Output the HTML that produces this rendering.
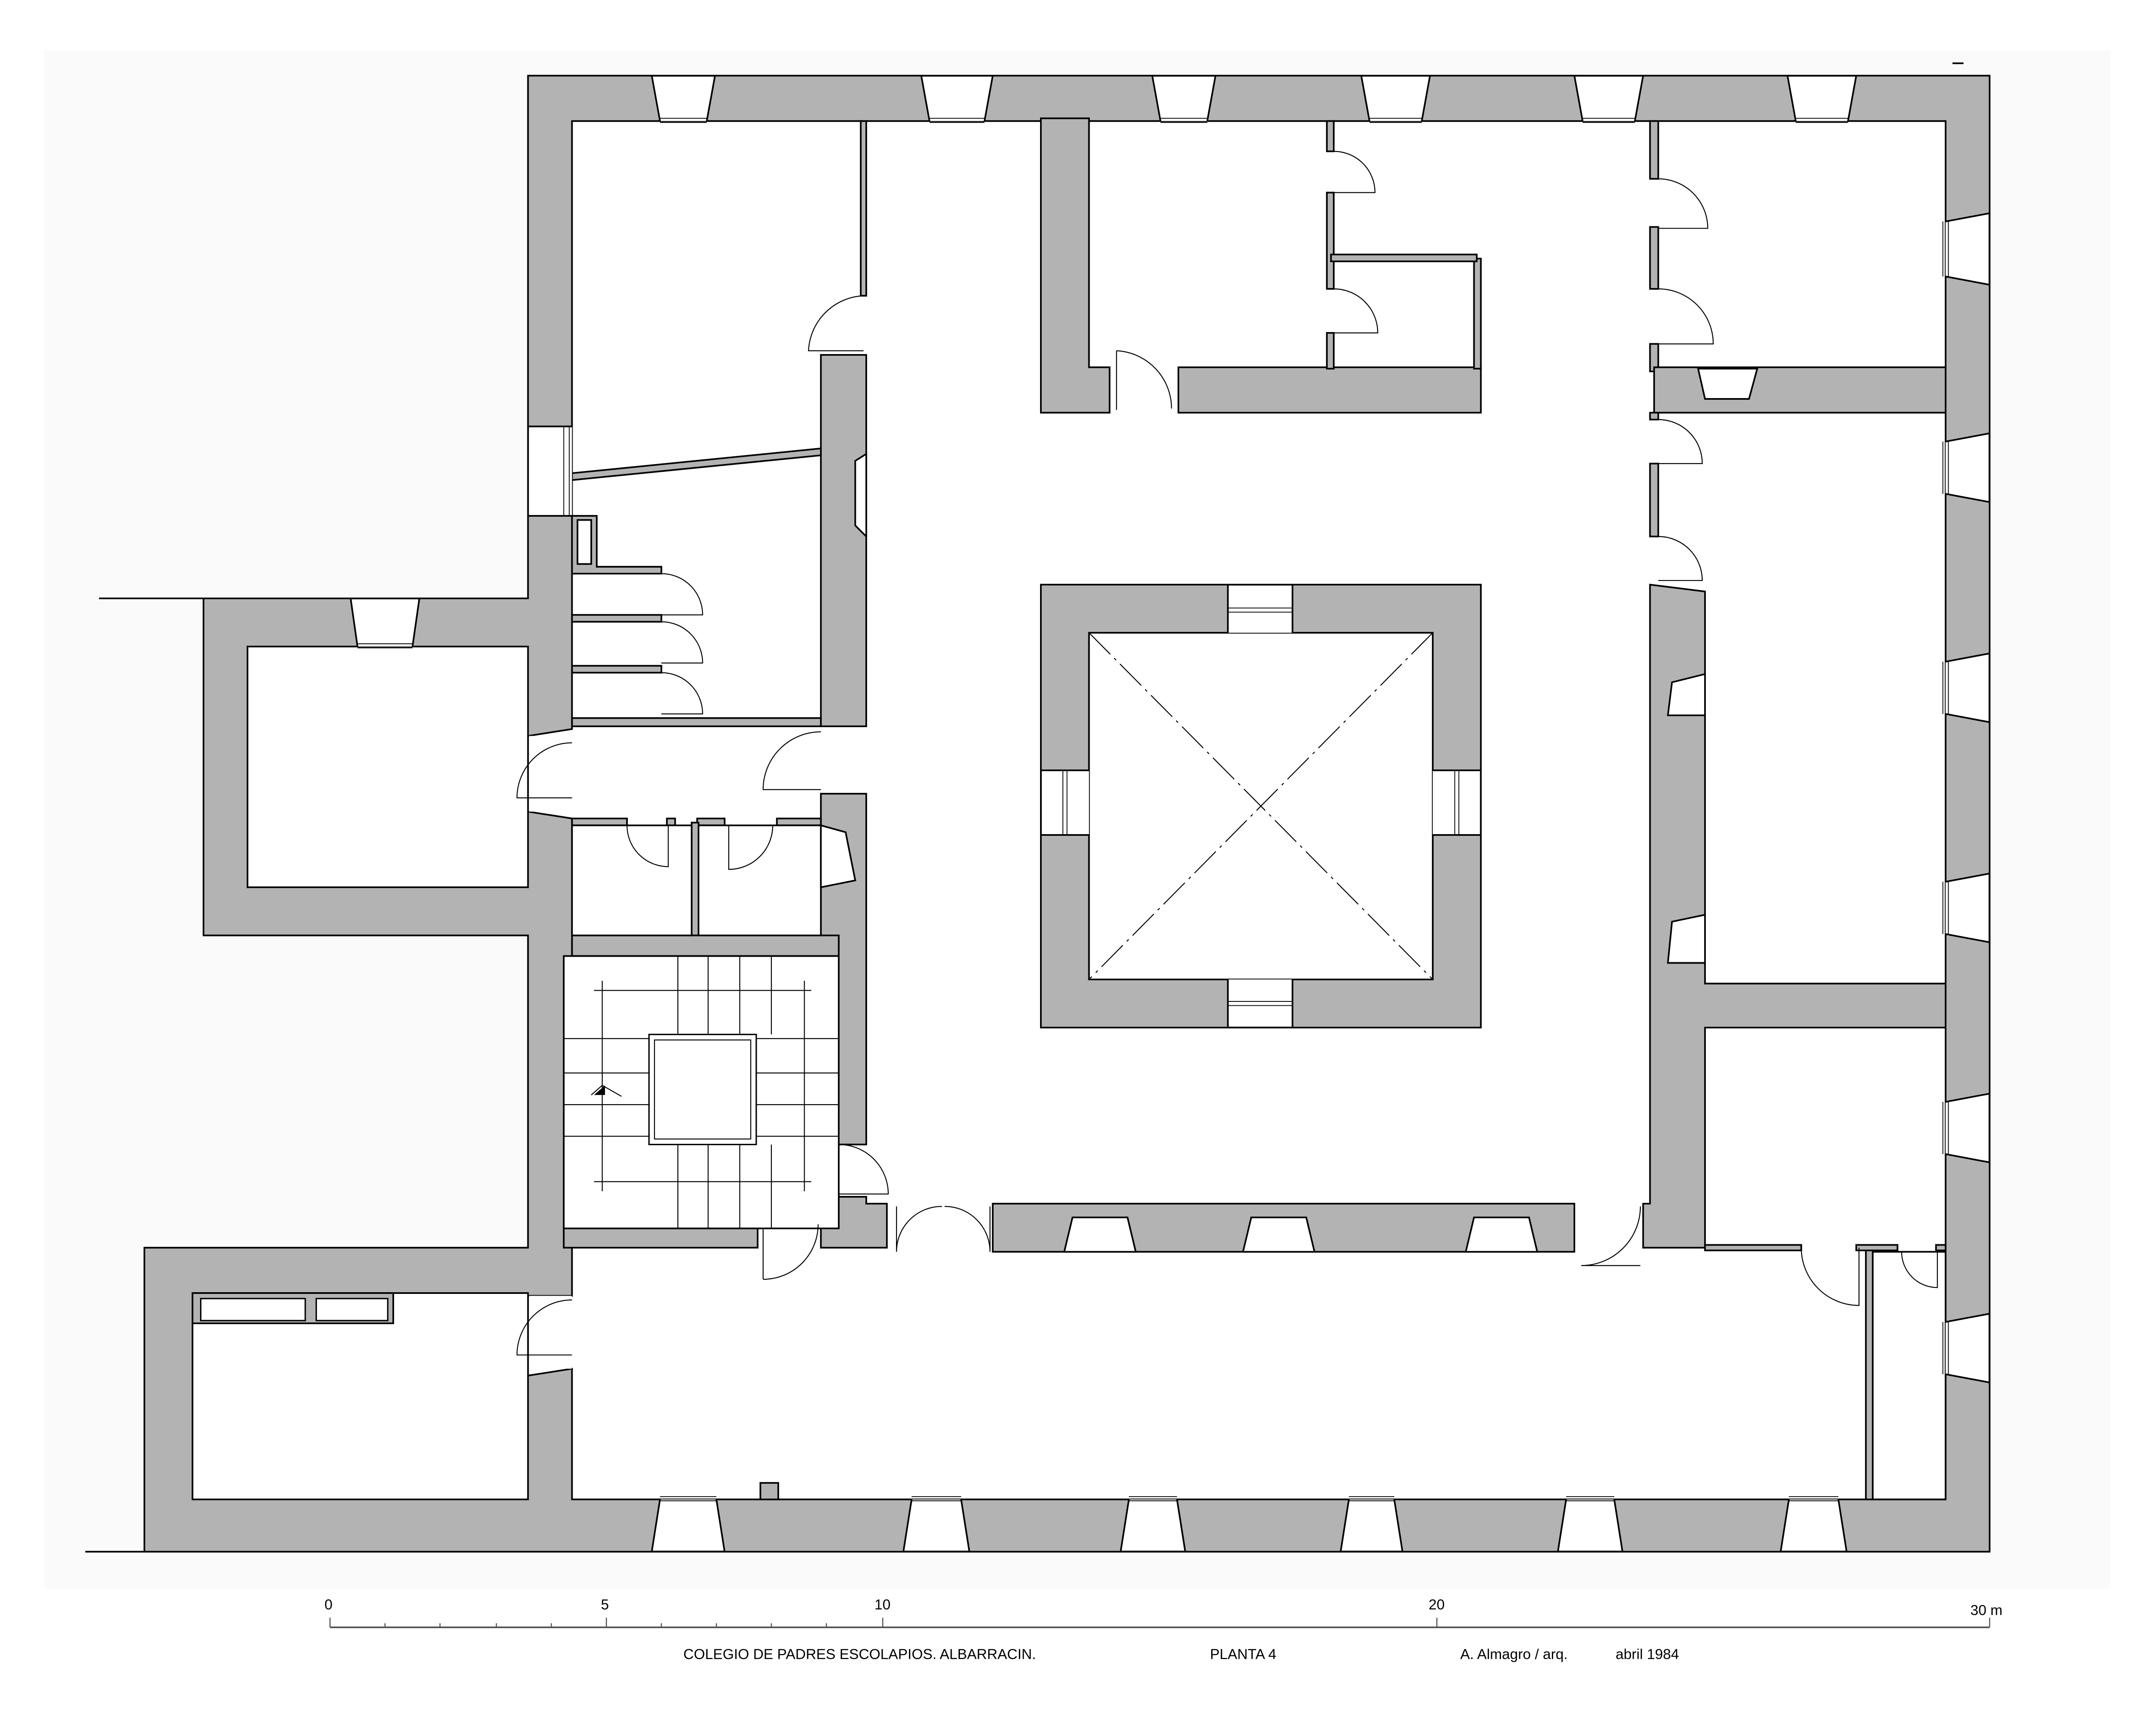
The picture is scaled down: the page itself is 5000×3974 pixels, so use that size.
<!DOCTYPE html>
<html><head><meta charset="utf-8"><style>
html,body{margin:0;padding:0;background:#fff;}
svg{display:block;}
text{font-family:"Liberation Sans",Arial,sans-serif;fill:#000;}
</style></head><body>
<svg width="5000" height="3974" viewBox="0 0 1568 1246" preserveAspectRatio="none" xmlns="http://www.w3.org/2000/svg">
<rect x="0" y="0" width="1568" height="1246" fill="#fff"/>
<rect x="32" y="37" width="1503" height="1118" fill="#fafafa"/>

<g stroke="#000" stroke-width="1.2" stroke-linejoin="miter">
<polygon fill="#b3b3b3" points="384,55 1447,55 1447,1128 105,1128 105,907 384,907 384,680 148,680 148,435 384,435"/>
<polygon fill="#fff" points="416,88 1415,88 1415,1090 416,1090 416,995 384,1000 384,942 416,942 416,907 416,595 384,590 384,535 416,530"/>
<rect x="180" y="470" width="204" height="175" fill="#fff"/>
<rect x="140" y="940" width="244" height="150" fill="#fff"/>
</g>

<g fill="#b3b3b3" stroke="#000" stroke-width="1.2">
<polygon points="757,86 792,86 792,267 807,267 807,300 757,300"/>
<rect x="857" y="267" width="220" height="33"/>
<rect x="1072" y="188" width="5" height="80"/>
<rect x="965" y="88" width="5" height="22"/>
<rect x="965" y="140" width="5" height="70"/>
<rect x="965" y="242" width="5" height="26"/>
<rect x="968" y="185" width="106" height="5"/>
<rect x="1200" y="88" width="6" height="42"/>
<rect x="1200" y="165" width="6" height="45"/>
<rect x="1200" y="250" width="6" height="20"/>
<polygon points="1203,267 1415,267 1415,300 1203,300"/>
<rect x="1200" y="300" width="6" height="5"/>
<rect x="1200" y="337" width="6" height="53"/>
<polygon points="1200,425 1240,430 1240,715 1415,715 1415,747 1240,747 1240,907 1195,907 1195,875 1200,875"/>
<rect x="1240" y="905" width="70" height="4"/>
<rect x="1357" y="907" width="5" height="183"/>
<rect x="1350" y="905" width="30" height="4"/>
<rect x="1408" y="905" width="7" height="4"/>
<rect x="722" y="875" width="423" height="35"/>
<path fill-rule="evenodd" d="M757,425 H1077 V747 H757 Z M792,460 V712 H1042 V460 Z"/>
<rect x="597" y="258" width="33" height="270"/>
<rect x="626" y="88" width="4" height="127"/>
<polygon points="416,344 597,326 597,331 416,349"/>
<rect x="416" y="522" width="181" height="6"/>
<rect x="416" y="447" width="65" height="5"/>
<rect x="416" y="484" width="65" height="5"/>
<polygon points="416,375 434,375 434,412 481,412 481,417 416,417"/>
<rect x="597" y="577" width="33" height="255"/>
<rect x="416" y="595" width="40" height="5"/>
<rect x="485" y="595" width="6" height="5"/>
<rect x="507" y="595" width="20" height="5"/>
<rect x="565" y="595" width="32" height="5"/>
<rect x="503" y="598" width="5" height="82"/>
<rect x="416" y="680" width="194" height="15"/>
<rect x="410" y="893" width="141" height="14"/>
<polygon points="610,870 630,870 630,875 645,875 645,907 597,907 597,893 610,893"/>
</g>

<g fill="#fff" stroke="#000" stroke-width="1.2">
<rect x="416" y="600" width="87" height="80"/>
<rect x="508" y="600" width="89" height="80"/>
<rect x="410" y="695" width="200" height="198"/>
<rect x="420" y="378" width="10" height="32"/>
<polygon points="622,335 630,330 630,390 622,382" />
<polygon points="597,600 615,605 622,640 597,645"/>
<polygon points="1240,490 1216,496 1213,520 1240,520"/>
<polygon points="1240,665 1216,670 1213,700 1240,700"/>
<polygon points="1235,268 1278,268 1272,290 1240,290"/>
<polygon points="780,885 820,885 826,910 774,910"/>
<polygon points="910,885 950,885 956,910 904,910"/>
<polygon points="1072,885 1112,885 1118,910 1066,910"/>
<rect x="1362" y="910" width="53" height="180" fill="none"/>
</g>
<rect x="553" y="1078" width="13" height="12" fill="#b3b3b3" stroke="#000" stroke-width="1.2"/>
<rect x="140" y="940" width="146" height="22" fill="#b3b3b3" stroke="#000" stroke-width="1.2"/>
<rect x="146" y="944" width="76" height="16" fill="#fff" stroke="#000" stroke-width="1"/>
<rect x="230" y="944" width="52" height="16" fill="#fff" stroke="#000" stroke-width="1"/>

<g fill="#fff" stroke="none">
<polygon points="474,55.8 520,55.8 514,88 480,88"/>
<polygon points="670,55.8 722,55.8 716,88 676,88"/>
<polygon points="838,55.8 884,55.8 878,88 844,88"/>
<polygon points="990,55.8 1040,55.8 1034,88 996,88"/>
<polygon points="1145,55.8 1195,55.8 1189,88 1151,88"/>
<polygon points="1300,55.8 1350,55.8 1344,88 1306,88"/>
<polygon points="474,1127 527,1127 521,1090 480,1090"/>
<polygon points="657,1127 705,1127 699,1090 663,1090"/>
<polygon points="815,1127 862,1127 856,1090 821,1090"/>
<polygon points="975,1127 1020,1127 1014,1090 981,1090"/>
<polygon points="1133,1127 1180,1127 1174,1090 1139,1090"/>
<polygon points="1295,1127 1343,1127 1337,1090 1301,1090"/>
<polygon points="1446,155 1446,207 1415,201 1415,161"/>
<polygon points="1446,315 1446,365 1415,359 1415,321"/>
<polygon points="1446,475 1446,525 1415,519 1415,481"/>
<polygon points="1446,635 1446,685 1415,679 1415,641"/>
<polygon points="1446,795 1446,845 1415,839 1415,801"/>
<polygon points="1446,955 1446,1005 1415,999 1415,961"/>
<rect x="384.8" y="310" width="31.2" height="65"/>
<polygon points="255,435.8 305,435.8 300,470 260,470"/>
<rect x="893" y="425.8" width="47" height="34.2"/>
<rect x="893" y="712" width="47" height="34.2"/>
<rect x="757.8" y="560" width="34.2" height="47"/>
<rect x="1042" y="560" width="34.2" height="47"/>
<rect x="384.8" y="535" width="31" height="55"/>
<rect x="384.8" y="942" width="31" height="53"/>
</g>
<g stroke="#000" stroke-width="1.2" fill="none">
<path d="M474,55 L480,88 M520,55 L514,88 M670,55 L676,88 M722,55 L716,88 M838,55 L844,88 M884,55 L878,88 M990,55 L996,88 M1040,55 L1034,88 M1145,55 L1151,88 M1195,55 L1189,88 M1300,55 L1306,88 M1350,55 L1344,88"/>
<path d="M474,1128 L480,1090 M527,1128 L521,1090 M657,1128 L663,1090 M705,1128 L699,1090 M815,1128 L821,1090 M862,1128 L856,1090 M975,1128 L981,1090 M1020,1128 L1014,1090 M1133,1128 L1139,1090 M1180,1128 L1174,1090 M1295,1128 L1301,1090 M1343,1128 L1337,1090"/>
<path d="M1447,155 L1415,161 M1447,207 L1415,201 M1447,315 L1415,321 M1447,365 L1415,359 M1447,475 L1415,481 M1447,525 L1415,519 M1447,635 L1415,641 M1447,685 L1415,679 M1447,795 L1415,801 M1447,845 L1415,839 M1447,955 L1415,961 M1447,1005 L1415,999"/>
<path d="M255,435 L260,470 M305,435 L300,470"/>
<path d="M384,310 H416 M384,375 H416 M893,425 V460 M940,425 V460 M893,712 V747 M940,712 V747 M757,560 H792 M757,607 H792 M1042,560 H1077 M1042,607 H1077"/>
</g>
<g stroke="#000" stroke-width="0.6" fill="none">
<path d="M480,86 H514 M480,89 H514 M676,86 H716 M676,89 H716 M844,86 H878 M844,89 H878 M996,86 H1034 M996,89 H1034 M1151,86 H1189 M1151,89 H1189 M1306,86 H1344 M1306,89 H1344"/>
<path d="M480,1088 H521 M480,1091 H521 M663,1088 H699 M663,1091 H699 M821,1088 H856 M821,1091 H856 M981,1088 H1014 M981,1091 H1014 M1139,1088 H1174 M1139,1091 H1174 M1301,1088 H1337 M1301,1091 H1337"/>
<path d="M1413,161 V201 M1417,161 V201 M1413,321 V359 M1417,321 V359 M1413,481 V519 M1417,481 V519 M1413,641 V679 M1417,641 V679 M1413,801 V839 M1417,801 V839 M1413,961 V999 M1417,961 V999"/>
<path d="M260,468 H300 M260,471 H300 M410,310 V375 M414,310 V375"/>
<path d="M893,442 H940 M893,445 H940 M893,728 H940 M893,731 H940 M773,560 V607 M776,560 V607 M1058,560 V607 M1061,560 V607"/>
</g>

<g stroke="#000" stroke-width="0.7" stroke-dasharray="22,4,2,4" fill="none">
<path d="M792,460 L1042,712 M1042,460 L792,712"/>
</g>

<g stroke="#000" stroke-width="0.7" fill="none">
<rect x="472" y="752" width="78" height="80" stroke-width="1"/>
<rect x="476" y="756" width="70" height="72"/>
<path d="M515,695 V752 M515,832 V893 M493,695 V752 M538,695 V752 M561,695 V752 M493,832 V893 M538,832 V893 M561,832 V893"/>
<path d="M410,755 H472 M410,780 H472 M410,803 H472 M410,826 H472 M550,755 H610 M550,780 H610 M550,803 H610 M550,826 H610"/>
<path d="M432,720 H590 M432,859 H590 M438,713 V866 M585,713 V866"/>
<path d="M430,796 L438,789 L452,797"/>
</g>
<polygon points="432,796 440,789 440,796" fill="#000"/>

<g stroke="#000" stroke-width="0.7" fill="none">
<path d="M628,215 A42,42 0 0 0 588,255 L628,255"/>
<path d="M481,417 A30,30 0 0 1 511,447 L481,447"/>
<path d="M481,452 A30,30 0 0 1 511,482 L481,482"/>
<path d="M481,489 A30,30 0 0 1 511,519 L481,519"/>
<path d="M812,255 A42,42 0 0 1 852,297 M812,255 V298"/>
<path d="M970,110 A30,30 0 0 1 1000,140 L970,140"/>
<path d="M970,210 A32,32 0 0 1 1002,242 L970,242"/>
<path d="M1206,130 A36,36 0 0 1 1242,166 L1206,166"/>
<path d="M1206,210 A40,40 0 0 1 1246,250 L1206,250"/>
<path d="M1206,305 A32,32 0 0 1 1238,337 L1206,337"/>
<path d="M1206,390 A32,32 0 0 1 1238,422 L1206,422"/>
<path d="M416,540 A40,40 0 0 0 376,580 L416,580"/>
<path d="M597,532 A42,42 0 0 0 555,574 L597,574"/>
<path d="M456,600 A30,30 0 0 0 486,630 L486,600"/>
<path d="M562,600 A32,32 0 0 1 530,632 L530,600"/>
<path d="M610,832 A36,36 0 0 1 646,868 L610,868"/>
<path d="M555,930 A40,40 0 0 0 595,890 M555,893 V930"/>
<path d="M652,910 A33,33 0 0 1 685,877 M652,877 V910"/>
<path d="M720,910 A33,33 0 0 0 687,877 M720,877 V910"/>
<path d="M1193,877 A43,43 0 0 1 1150,920 L1193,920"/>
<path d="M416,945 A40,40 0 0 0 376,985 L416,985"/>
<path d="M1310,907 A42,42 0 0 0 1352,949 L1352,907"/>
<path d="M1383,910 A26,26 0 0 0 1409,936 L1409,910"/>
</g>

<g stroke="#000" stroke-width="1.2">
<line x1="72" y1="435" x2="148" y2="435"/>
<line x1="62" y1="1128" x2="105" y2="1128"/>
<line x1="1420" y1="46" x2="1428" y2="46"/>
</g>

<g stroke="#555" stroke-width="0.8">
<line x1="240" y1="1183" x2="1447" y2="1183" stroke-width="1.2"/>
<line x1="240" y1="1176" x2="240" y2="1183"/>
<line x1="280" y1="1180" x2="280" y2="1183"/>
<line x1="320" y1="1180" x2="320" y2="1183"/>
<line x1="361" y1="1180" x2="361" y2="1183"/>
<line x1="401" y1="1180" x2="401" y2="1183"/>
<line x1="441" y1="1176" x2="441" y2="1183"/>
<line x1="481" y1="1180" x2="481" y2="1183"/>
<line x1="521" y1="1180" x2="521" y2="1183"/>
<line x1="561" y1="1180" x2="561" y2="1183"/>
<line x1="601" y1="1180" x2="601" y2="1183"/>
<line x1="642" y1="1176" x2="642" y2="1183"/>
<line x1="1045" y1="1176" x2="1045" y2="1183"/>
<line x1="1447" y1="1176" x2="1447" y2="1183"/>
</g>
<g font-size="10.5">
<text x="236" y="1170">0</text>
<text x="437" y="1170">5</text>
<text x="636" y="1170">10</text>
<text x="1039" y="1170">20</text>
<text x="1433" y="1174">30 m</text>
<text x="497" y="1206">COLEGIO DE PADRES ESCOLAPIOS. ALBARRACIN.</text>
<text x="880" y="1206">PLANTA 4</text>
<text x="1062" y="1206">A. Almagro / arq.</text>
<text x="1175" y="1206">abril 1984</text>
</g>
</svg>
</body></html>
